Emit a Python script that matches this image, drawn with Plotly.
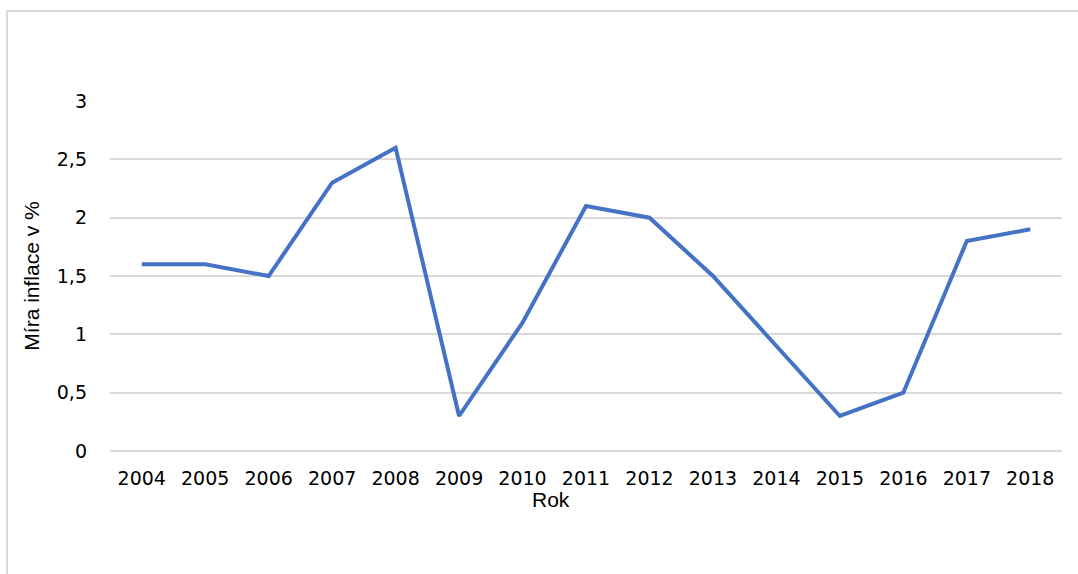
import plotly.graph_objects as go

years = ["2004", "2005", "2006", "2007", "2008", "2009", "2010", "2011",
         "2012", "2013", "2014", "2015", "2016", "2017", "2018"]
inflation = [1.6, 1.6, 1.5, 2.3, 2.6, 0.3, 1.1, 2.1, 2.0, 1.5, 0.9, 0.3, 0.5, 1.8, 1.9]
y_ticks = [0, 0.5, 1, 1.5, 2, 2.5, 3]
y_ticklabels = ["0", "0,5", "1", "1,5", "2", "2,5", "3"]

W, H = 1078, 574
L, R, T, B = 110, 16, 101, 123
pw, ph = W - L - R, H - T - B

fig = go.Figure()
fig.add_trace(go.Scatter(x=years, y=inflation, mode="lines",
                         line=dict(color="#4472C4", width=4), showlegend=False))

fig.update_layout(
    width=W, height=H,
    margin=dict(l=L, r=R, t=T, b=B),
    paper_bgcolor="white", plot_bgcolor="white",
    font=dict(family="DejaVu Sans", color="#000000", size=19),
    xaxis=dict(type="category", range=[-0.5, len(years) - 0.5],
               showgrid=False, zeroline=False, showline=False,
               tickfont=dict(family="DejaVu Sans", size=19, color="#000000"),
               ticklabelstandoff=14),
    yaxis=dict(range=[0, 3], tickvals=y_ticks, ticktext=y_ticklabels,
               showgrid=True, gridcolor="#d9d9d9", gridwidth=1.5,
               zeroline=True, zerolinecolor="#d9d9d9", zerolinewidth=1.5,
               showline=False,
               tickfont=dict(family="DejaVu Sans", size=19, color="#000000"),
               ticklabelstandoff=22,
               title=dict(text="Míra inflace v %", font=dict(family="Liberation Sans", size=21, color="#000000"),
                          standoff=11)),
)

# x-axis title, placed slightly left of centre as in the reference
fig.add_annotation(text="Rok", xref="paper", yref="paper",
                   x=(551 - L) / pw, y=-(499 - (H - B)) / ph,
                   xanchor="center", yanchor="middle", showarrow=False,
                   font=dict(family="Liberation Sans", size=21, color="#000000"))

# outer chart border (light gray), partially cut at right/bottom like the reference
x0 = (7 - L) / pw
x1 = (W + 10 - L) / pw
y1 = 1 + (T - 11) / ph
y0 = -(B + 10) / ph
fig.add_shape(type="rect", xref="paper", yref="paper", x0=x0, x1=x1, y0=y0, y1=y1,
              line=dict(color="#d9d9d9", width=2), layer="below")

fig.write_html("out.html")
